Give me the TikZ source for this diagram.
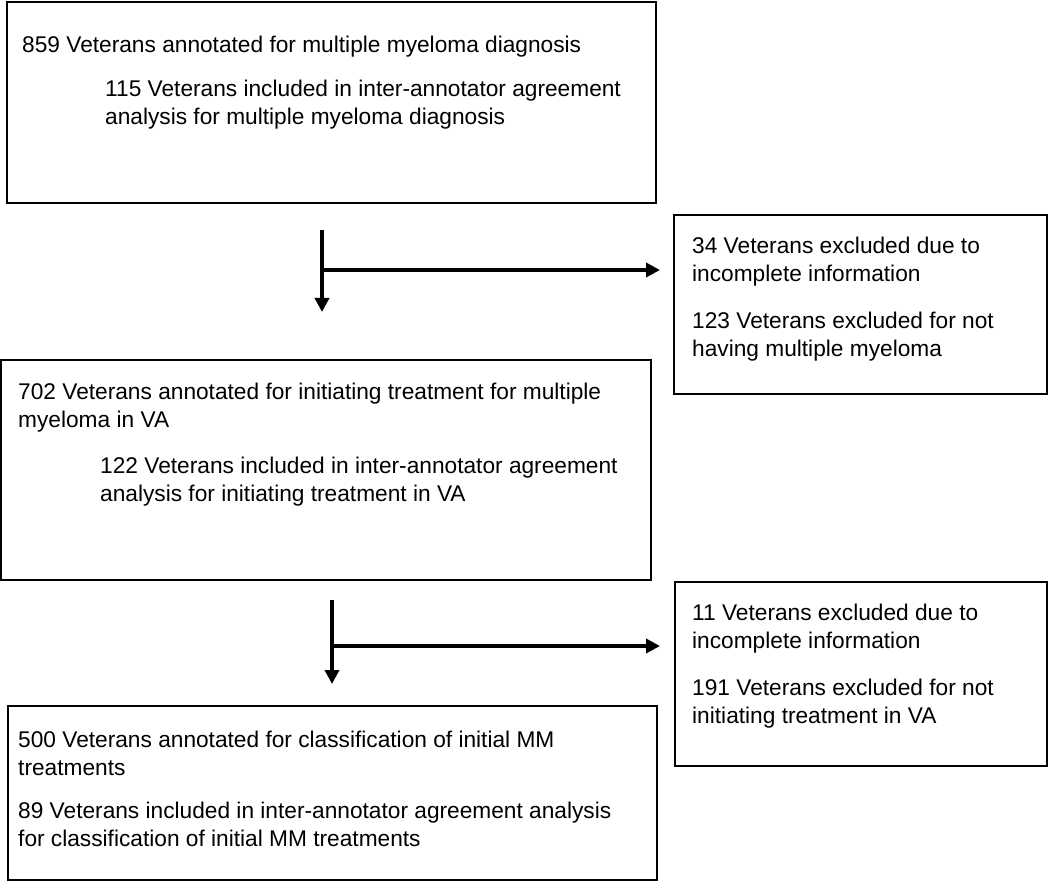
\documentclass[tikz,border=0pt]{standalone}
\usepackage{fontspec}
\setmainfont{Liberation Sans}
\usetikzlibrary{arrows.meta}
\begin{document}
\begin{tikzpicture}[x=1pt,y=-1pt,
  box/.style={draw=black,line width=1.3pt},
  txt/.style={anchor=base west,inner sep=0pt,align=left,font=\fontsize{22.7}{28}\selectfont},
  flow/.style={line width=4pt,-{Triangle[length=14pt,width=14pt]}}]
\useasboundingbox (0,0) rectangle (1050,882);
\draw[box] (7,2) rectangle (656,203);
\draw[box] (674,215) rectangle (1047,394);
\draw[box] (1,360) rectangle (651,580);
\draw[box] (675,582) rectangle (1047,766);
\draw[box] (8,706) rectangle (657,880);
\node[txt] (t1) at (22,53) {859 Veterans annotated for multiple myeloma diagnosis};
\node[txt] (t2) at (105,125) {115 Veterans included in inter-annotator agreement\\analysis for multiple myeloma diagnosis};
\node[txt] (t3) at (692,282) {34 Veterans excluded due to\\incomplete information};
\node[txt] (t4) at (692,357) {123 Veterans excluded for not\\having multiple myeloma};
\node[txt] (t5) at (18,428) {702 Veterans annotated for initiating treatment for multiple\\myeloma in VA};
\node[txt] (t6) at (100,501) {122 Veterans included in inter-annotator agreement\\analysis for initiating treatment in VA};
\node[txt] (t7) at (692,648) {11 Veterans excluded due to\\incomplete information};
\node[txt] (t8) at (692,723) {191 Veterans excluded for not\\initiating treatment in VA};
\node[txt] (t9) at (18,775) {500 Veterans annotated for classification of initial MM\\treatments};
\node[txt] (t10) at (18,846) {89 Veterans included in inter-annotator agreement analysis\\for classification of initial MM treatments};
\coordinate (a1s) at (322,230);
\coordinate (a1e) at (322,312);
\coordinate (a1m) at (322,270);
\coordinate (a1r) at (660,270);
\coordinate (a2s) at (332,600);
\coordinate (a2e) at (332,684);
\coordinate (a2m) at (332,646);
\coordinate (a2r) at (660,646);
\draw[flow] (a1s) -- (a1e);
\draw[flow] (a1m) -- (a1r);
\draw[flow] (a2s) -- (a2e);
\draw[flow] (a2m) -- (a2r);
\end{tikzpicture}
\end{document}
